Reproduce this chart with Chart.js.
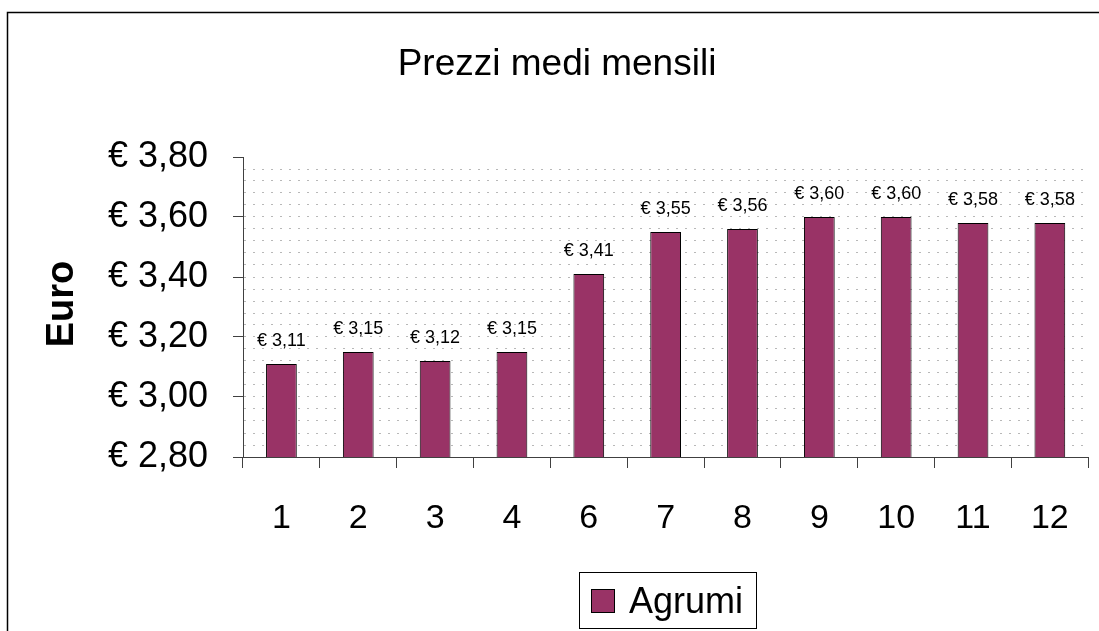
<!DOCTYPE html>
<html>
<head>
<meta charset="utf-8">
<script src="https://cdn.jsdelivr.net/npm/chart.js@4/dist/chart.umd.min.js"></script>
<style>
  html, body { margin: 0; padding: 0; background: #fff; }
  #wrap { width: 1099px; height: 631px; }
</style>
</head>
<body>
<div id="wrap"><canvas id="chart" width="1099" height="631"></canvas></div>
<script>
const months = ['1', '2', '3', '4', '6', '7', '8', '9', '10', '11', '12'];
const agrumi = [3.11, 3.15, 3.12, 3.15, 3.41, 3.55, 3.56, 3.60, 3.60, 3.58, 3.58];
const seriesName = 'Agrumi';
const chartTitle = 'Prezzi medi mensili';
const axisTitle = 'Euro';

const FONT = '"Liberation Sans", Arial, sans-serif';
const BAR = '#993366';

const euro = (v) => '€ ' + v.toFixed(2).replace('.', ',');
const isMajor = (v) => Math.abs(v * 5 - Math.round(v * 5)) < 1e-6;

// frame, title, axis title, value labels and legend
const decor = {
  id: 'decor',
  afterDatasetsDraw(chart) {
    const { ctx } = chart;
    ctx.save();
    ctx.fillStyle = '#000';
    ctx.font = '18px ' + FONT;
    ctx.textAlign = 'center';
    ctx.textBaseline = 'alphabetic';
    chart.getDatasetMeta(0).data.forEach((bar, i) => {
      ctx.fillText(euro(agrumi[i]), bar.x, bar.y - 18);
    });
    ctx.restore();
  },
  afterDraw(chart) {
    const { ctx } = chart;
    ctx.save();

    // outer frame
    ctx.strokeStyle = '#000';
    ctx.lineWidth = 1.5;
    ctx.strokeRect(7.5, 12.5, 1200, 700);

    // title
    ctx.fillStyle = '#000';
    ctx.font = '37px ' + FONT;
    ctx.textAlign = 'center';
    ctx.textBaseline = 'alphabetic';
    ctx.fillText(chartTitle, 557, 75);

    // y axis title
    ctx.save();
    ctx.translate(73, 304);
    ctx.rotate(-Math.PI / 2);
    ctx.font = 'bold 38px ' + FONT;
    ctx.fillText(axisTitle, 0, 0);
    ctx.restore();

    // legend
    ctx.lineWidth = 1;
    ctx.strokeStyle = '#000';
    ctx.strokeRect(579.5, 572.5, 177, 56);
    ctx.fillStyle = BAR;
    ctx.fillRect(591, 589, 24, 24);
    ctx.strokeRect(591.5, 589.5, 23, 23);
    ctx.fillStyle = '#000';
    ctx.font = '36px ' + FONT;
    ctx.textAlign = 'left';
    ctx.fillText(seriesName, 629, 613);

    ctx.restore();
  }
};

new Chart(document.getElementById('chart'), {
  type: 'bar',
  data: {
    labels: months,
    datasets: [{
      label: seriesName,
      data: agrumi,
      backgroundColor: BAR,
      borderColor: '#000',
      borderWidth: 1,
      barPercentage: 0.4,
      categoryPercentage: 1.0,
    }],
  },
  options: {
    responsive: false,
    animation: false,
    layout: { padding: { left: 0, right: 5, top: 157, bottom: 0 } },
    plugins: {
      legend: { display: false },
      title: { display: false },
      tooltip: { enabled: false },
    },
    scales: {
      x: {
        afterFit: (s) => { s.height = 174; },
        grid: {
          drawOnChartArea: false,
          tickLength: 11,
          tickColor: '#404040',
        },
        border: { color: '#404040', width: 1 },
        ticks: { color: '#000', padding: 30, font: { family: FONT, size: 34 } },
      },
      y: {
        min: 2.8,
        max: 3.8,
        afterFit: (s) => { s.width = 243; },
        grid: {
          tickLength: 10,
          color: (c) => (c.tick && c.tick.value > 3.79 ? 'rgba(0,0,0,0)' : '#b8b8b8'),
          tickColor: (c) => (c.tick && isMajor(c.tick.value) ? '#404040' : 'rgba(0,0,0,0)'),
        },
        border: { color: '#404040', width: 1, dash: [2, 7] },
        ticks: {
          stepSize: 0.04,
          autoSkip: false,
          color: '#000',
          padding: 25,
          font: { family: FONT, size: 36 },
          callback: (v) => (isMajor(v) ? euro(v) : ''),
        },
      },
    },
  },
  plugins: [decor],
});
</script>
</body>
</html>
